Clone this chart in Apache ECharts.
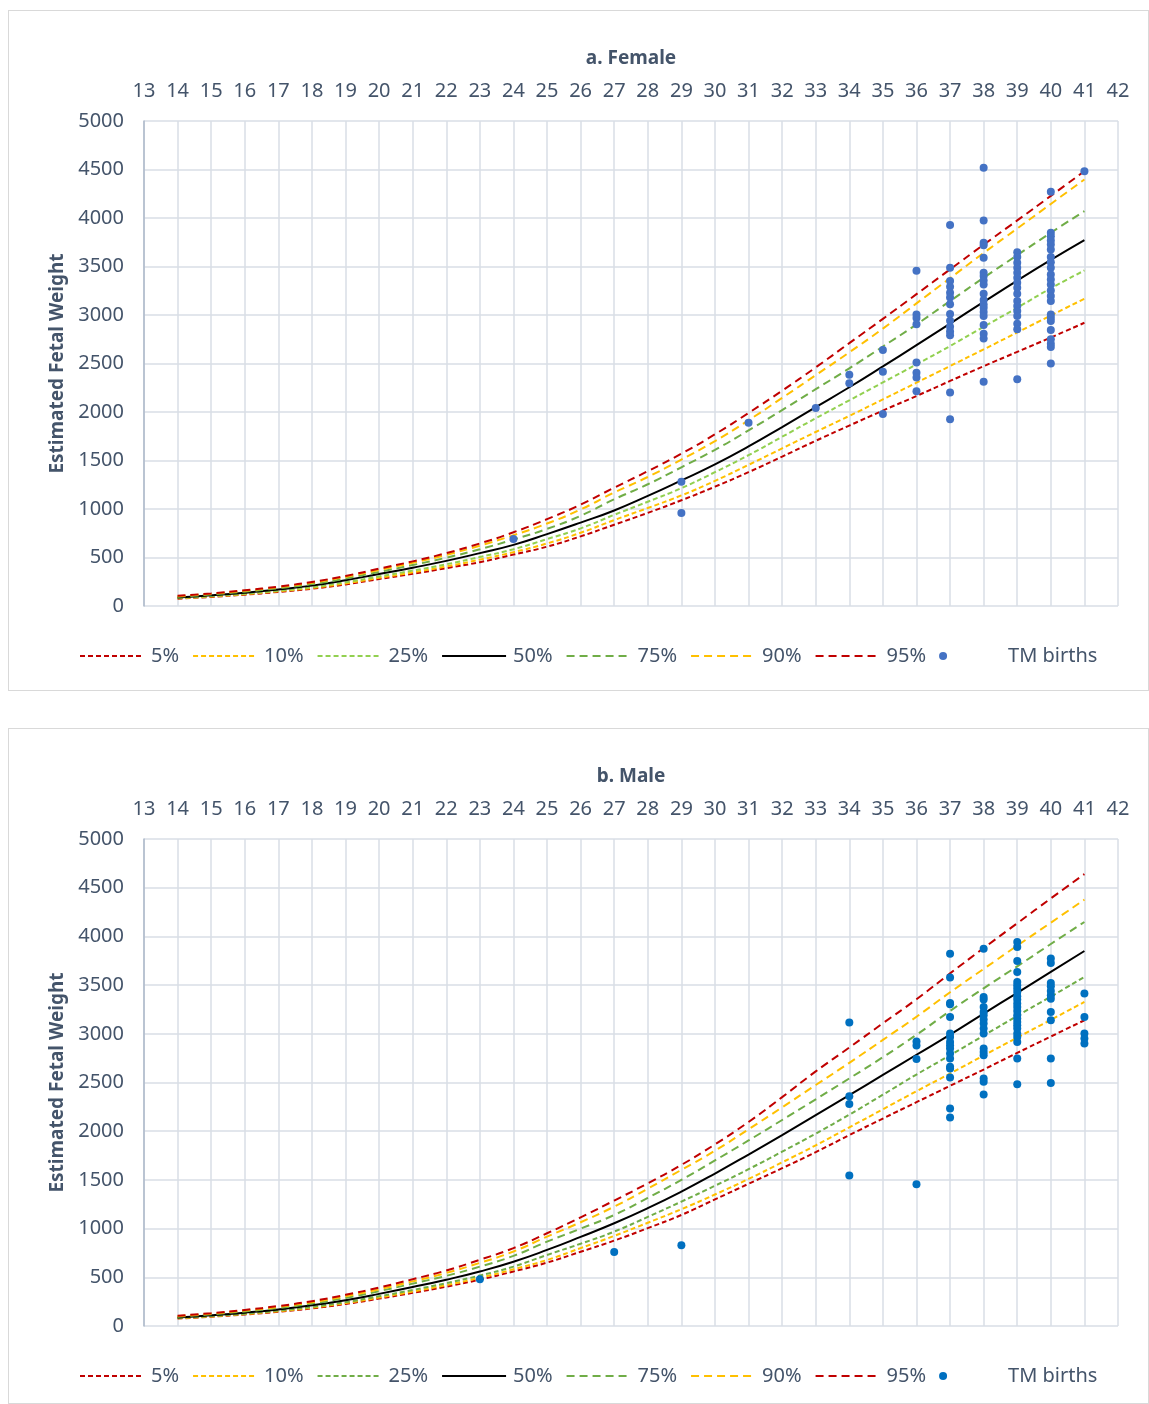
<!DOCTYPE html>
<html>
<head>
<meta charset="utf-8">
<script src="https://cdn.jsdelivr.net/npm/echarts@6/dist/echarts.min.js"></script>
<style>
  html, body { margin: 0; padding: 0; background: #ffffff; }
  .box { position: absolute; border: 1px solid #D9D9D9; box-sizing: border-box; background: #fff; }
</style>
</head>
<body>
<div id="female" class="box" style="left:8px; top:10px; width:1141px; height:681px;"></div>
<div id="male" class="box" style="left:8px; top:728px; width:1141px; height:676px;"></div>
<script>
// ---------- data ----------
const weeks = [14,15,16,17,18,19,20,21,22,23,24,25,26,27,28,29,30,31,32,33,34,35,36,37,38,39,40,41];
const xTicks = [13,14,15,16,17,18,19,20,21,22,23,24,25,26,27,28,29,30,31,32,33,34,35,36,37,38,39,40,41,42];
const yTicks = [0,500,1000,1500,2000,2500,3000,3500,4000,4500,5000];
const percentileNames = ['5%','10%','25%','50%','75%','90%','95%'];

// Female percentile curves (g)
const femaleP5  = [76,94,117,145,178,222,278,332,390,452,530,612,718,838,960,1090,1230,1380,1540,1703,1860,2015,2165,2320,2472,2620,2768,2920];
const femaleP10 = [79,98,122,151,186,233,290,347,408,478,555,645,755,886,1010,1140,1290,1455,1625,1794,1960,2130,2302,2474,2646,2820,2995,3167];
const femaleP25 = [82,102,127,158,195,245,305,365,430,505,585,690,800,940,1075,1215,1380,1555,1745,1935,2120,2305,2491,2680,2879,3075,3275,3459];
const femaleP50 = [88,110,137,170,210,265,330,395,465,545,630,741,860,985,1135,1295,1460,1645,1845,2050,2255,2470,2690,2912,3135,3355,3568,3772];
const femaleP75 = [95,119,148,183,226,283,352,422,498,585,685,795,930,1100,1255,1430,1610,1810,2020,2235,2450,2675,2903,3144,3384,3617,3848,4071];
const femaleP90 = [101,126,157,194,240,300,372,445,527,622,730,850,995,1170,1330,1510,1700,1915,2145,2380,2615,2860,3120,3380,3640,3892,4145,4397];
const femaleP95 = [105,130,162,200,248,310,385,460,545,645,760,895,1045,1220,1390,1570,1770,1990,2220,2460,2710,2960,3215,3470,3725,3975,4228,4483];

// Male percentile curves (g)
const maleP5  = [77,95,118,146,181,226,281,340,404,476,560,651,762,877,1005,1140,1300,1460,1620,1785,1960,2130,2298,2466,2633,2804,2972,3139];
const maleP10 = [79,98,122,151,188,235,292,354,420,495,582,678,800,925,1060,1199,1350,1510,1680,1855,2040,2225,2411,2592,2777,2961,3143,3327];
const maleP25 = [82,102,127,158,196,245,305,370,440,518,610,729,845,969,1120,1277,1440,1610,1790,1975,2170,2375,2582,2780,2982,3184,3382,3584];
const maleP50 = [88,110,137,170,212,265,330,400,475,560,660,781,915,1055,1210,1380,1565,1760,1960,2165,2370,2578,2785,2992,3208,3420,3635,3850];
const maleP75 = [96,120,150,185,230,288,358,435,515,610,720,866,1000,1140,1315,1500,1700,1905,2115,2327,2542,2760,2990,3235,3467,3693,3922,4148];
const maleP90 = [101,127,158,196,243,305,377,458,545,648,765,918,1065,1226,1410,1603,1800,2020,2245,2474,2702,2937,3175,3426,3666,3905,4141,4377];
const maleP95 = [105,132,165,205,255,320,395,480,570,680,800,952,1115,1288,1465,1654,1865,2095,2350,2614,2859,3108,3355,3620,3880,4135,4390,4640];

// TM births [gestational week, weight g]
const femaleBirths = [
  [24,690],[29,1280],[29,960],[31,1890],[33,2040],[34,2385],[34,2297],
  [35,2639],[35,2416],[35,1980],
  [36,3455],[36,3005],[36,2970],[36,2905],[36,2510],[36,2405],[36,2355],[36,2215],
  [37,3927],[37,3487],[37,3350],[37,3290],[37,3230],[37,3180],[37,3110],[37,3010],[37,2940],[37,2880],[37,2830],[37,2790],[37,2200],[37,1925],
  [38,4517],[38,3975],[38,3745],[38,3720],[38,3590],[38,3435],[38,3401],[38,3356],[38,3315],[38,3219],[38,3154],[38,3109],[38,3075],[38,3030],[38,2989],[38,2896],[38,2807],[38,2759],[38,2312],
  [39,3648],[39,3597],[39,3538],[39,3487],[39,3435],[39,3384],[39,3332],[39,3281],[39,3219],[39,3144],[39,3092],[39,3041],[39,2989],[39,2910],[39,2852],[39,2337],
  [40,4270],[40,3848],[40,3813],[40,3769],[40,3727],[40,3676],[40,3597],[40,3545],[40,3487],[40,3418],[40,3367],[40,3315],[40,3253],[40,3195],[40,3144],[40,3006],[40,2972],[40,2938],[40,2845],[40,2749],[40,2704],[40,2670],[40,2501],
  [41,4483]
];
const maleBirths = [
  [23,480],[27,760],[29,830],
  [34,3115],[34,2358],[34,2280],[34,1545],
  [36,2920],[36,2880],[36,2740],[36,1455],
  [37,3823],[37,3577],[37,3317],[37,3303],[37,3173],[37,3002],[37,2968],[37,2917],[37,2883],[37,2849],[37,2797],[37,2746],[37,2661],[37,2643],[37,2551],[37,2233],[37,2141],
  [38,3874],[38,3379],[38,3351],[38,3276],[38,3225],[38,3190],[38,3146],[38,3105],[38,3054],[38,3002],[38,2849],[38,2814],[38,2780],[38,2541],[38,2507],[38,2377],
  [39,3943],[39,3891],[39,3748],[39,3635],[39,3532],[39,3498],[39,3464],[39,3430],[39,3385],[39,3351],[39,3310],[39,3276],[39,3235],[39,3190],[39,3156],[39,3122],[39,3088],[39,3054],[39,3002],[39,2968],[39,2917],[39,2746],[39,2483],
  [40,3772],[40,3727],[40,3522],[40,3488],[40,3440],[40,3396],[40,3361],[40,3225],[40,3139],[40,2746],[40,2496],
  [41,3413],[41,3173],[41,3002],[41,2951],[41,2900]
];

// ---------- chart builder ----------
const FONT = '"Noto Sans", "DejaVu Sans", sans-serif';
const TXT = '#44546A';
const RED = '#C00000', YEL = '#FFC000', LGREEN = '#92D050', GREEN = '#70AD47';
const DOT = [5, 3], DASH = [8, 5];

function buildOption(title, curves, births, p25Color, dotColor, gridTop, gridHeight, legendTop) {
  const styles = [
    { color: RED, type: DOT, width: 2 },
    { color: YEL, type: DOT, width: 2 },
    { color: p25Color, type: DOT, width: 2 },
    { color: '#000000', type: 'solid', width: 2 },
    { color: GREEN, type: DASH, width: 2 },
    { color: YEL, type: DASH, width: 2 },
    { color: RED, type: DASH, width: 2 }
  ];
  const series = curves.map((arr, i) => ({
    name: percentileNames[i],
    type: 'line',
    smooth: true,
    symbol: 'none',
    silent: true,
    z: 2 + i,
    lineStyle: styles[i],
    itemStyle: { color: styles[i].color },
    data: weeks.map((w, k) => [w, arr[k]])
  }));
  series.push({
    name: 'TM births',
    type: 'scatter',
    symbol: 'circle',
    symbolSize: 8,
    z: 20,
    itemStyle: { color: dotColor, opacity: 1 },
    data: births
  });
  return {
    animation: false,
    backgroundColor: '#ffffff',
    textStyle: { fontFamily: FONT },
    title: {
      text: title,
      left: 617, top: 33, textAlign: 'center',
      textStyle: { fontFamily: FONT, fontSize: 19, fontWeight: 'bold', color: TXT }
    },
    grid: { left: 135, right: 30, top: gridTop, height: gridHeight, containLabel: false },
    legend: {
      top: legendTop, left: 65,
      itemWidth: 64, itemHeight: 8, itemGap: 13,
      textStyle: { fontFamily: FONT, fontSize: 20, color: TXT, padding: [0, 0, 0, 2] },
      data: percentileNames.map(n => ({ name: n, itemStyle: { opacity: 0 } }))
        .concat([{ name: 'TM births', icon: 'circle', textStyle: { padding: [0, 0, 0, 28] } }])
    },
    xAxis: {
      type: 'value', position: 'top',
      min: xTicks[0], max: xTicks[xTicks.length - 1], interval: 1,
      axisLine: { show: false },
      axisTick: { show: false },
      axisLabel: { margin: 20, fontFamily: FONT, fontSize: 20, color: TXT },
      splitLine: { show: true, lineStyle: { color: '#D9DEE6', width: 1.5 } }
    },
    yAxis: {
      type: 'value',
      min: yTicks[0], max: yTicks[yTicks.length - 1], interval: 500,
      name: 'Estimated Fetal Weight', nameLocation: 'middle', nameGap: 74, nameRotate: 90,
      nameTextStyle: { fontFamily: FONT, fontSize: 19, fontWeight: 'bold', color: TXT },
      axisLine: { show: true, lineStyle: { color: '#ADB9CA', width: 1.5 } },
      axisTick: { show: false },
      axisLabel: { margin: 20, fontFamily: FONT, fontSize: 20, color: TXT, formatter: v => String(v) },
      splitLine: { show: true, lineStyle: { color: '#D9DEE6', width: 1.5 } }
    },
    series: series
  };
}

const fChart = echarts.init(document.getElementById('female'), null, { renderer: 'canvas' });
fChart.setOption(buildOption('a. Female',
  [femaleP5, femaleP10, femaleP25, femaleP50, femaleP75, femaleP90, femaleP95],
  femaleBirths, LGREEN, '#4472C4', 110, 485, 630));

const mChart = echarts.init(document.getElementById('male'), null, { renderer: 'canvas' });
mChart.setOption(buildOption('b. Male',
  [maleP5, maleP10, maleP25, maleP50, maleP75, maleP90, maleP95],
  maleBirths, GREEN, '#0070C0', 110, 487, 632));
</script>
</body>
</html>
